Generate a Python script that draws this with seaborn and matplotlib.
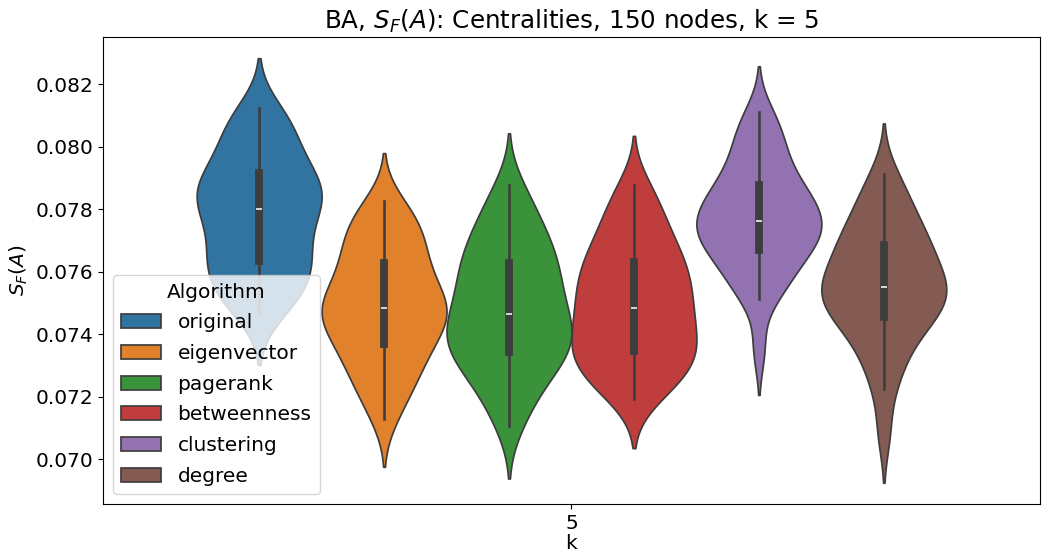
import matplotlib
matplotlib.use("Agg")
import matplotlib.pyplot as plt
import pandas as pd
import seaborn as sns

# Number of neighbours used in this experiment (single category on the x axis)
k_value = 5

algorithms = ["original", "eigenvector", "pagerank", "betweenness", "clustering", "degree"]

# S_F(A) values for each run, per centrality-based algorithm
original = [0.07460, 0.07495, 0.07520, 0.07545, 0.07565, 0.07590, 0.07610,
            0.07630, 0.07645, 0.07670, 0.07695, 0.07720, 0.07745, 0.07770,
            0.07790, 0.07810, 0.07825, 0.07840, 0.07855, 0.07870, 0.07885,
            0.07900, 0.07920, 0.07945, 0.07975, 0.08005, 0.08035, 0.08065,
            0.08095, 0.08125]
eigenvector = [0.07130, 0.07190, 0.07230, 0.07260, 0.07290, 0.07315, 0.07340,
               0.07365, 0.07385, 0.07405, 0.07425, 0.07440, 0.07455, 0.07470,
               0.07480, 0.07490, 0.07505, 0.07525, 0.07545, 0.07565, 0.07585,
               0.07610, 0.07635, 0.07660, 0.07685, 0.07710, 0.07735, 0.07760,
               0.07790, 0.07825]
pagerank = [0.07105, 0.07170, 0.07215, 0.07250, 0.07280, 0.07305, 0.07325,
            0.07340, 0.07355, 0.07370, 0.07390, 0.07410, 0.07430, 0.07435,
            0.07455, 0.07475, 0.07500, 0.07525, 0.07550, 0.07570, 0.07590,
            0.07610, 0.07635, 0.07660, 0.07685, 0.07710, 0.07740, 0.07775,
            0.07820, 0.07876]
betweenness = [0.07194, 0.07225, 0.07250, 0.07270, 0.07290, 0.07310, 0.07330,
               0.07342, 0.07355, 0.07375, 0.07395, 0.07415, 0.07435, 0.07455,
               0.07475, 0.07495, 0.07515, 0.07535, 0.07555, 0.07575, 0.07595,
               0.07620, 0.07635, 0.07660, 0.07685, 0.07715, 0.07750, 0.07785,
               0.07830, 0.07876]
clustering = [0.07352, 0.07514, 0.07535, 0.07570, 0.07600, 0.07625, 0.07645,
              0.07665, 0.07680, 0.07695, 0.07710, 0.07725, 0.07735, 0.07745,
              0.07755, 0.07770, 0.07785, 0.07800, 0.07815, 0.07830, 0.07845,
              0.07865, 0.07880, 0.07905, 0.07935, 0.07965, 0.08000, 0.08035,
              0.08070, 0.08111]
degree = [0.07085, 0.07225, 0.07285, 0.07335, 0.07375, 0.07405, 0.07430,
          0.07450, 0.07470, 0.07485, 0.07500, 0.07515, 0.07525, 0.07535,
          0.07545, 0.07560, 0.07575, 0.07595, 0.07615, 0.07635, 0.07655,
          0.07675, 0.07690, 0.07710, 0.07735, 0.07760, 0.07790, 0.07825,
          0.07865, 0.07914]

series = [original, eigenvector, pagerank, betweenness, clustering, degree]

df = pd.concat(
    [pd.DataFrame({"k": k_value, "S_F": vals, "Algorithm": name})
     for name, vals in zip(algorithms, series)],
    ignore_index=True,
)

FS = 14.5
plt.rcParams["font.size"] = FS

fig, ax = plt.subplots(figsize=(10.54, 5.54), dpi=100)
fig.subplots_adjust(left=0.0977, right=0.9867, top=0.9332, bottom=0.0903)

sns.violinplot(data=df, x="k", y="S_F", hue="Algorithm", hue_order=algorithms,
               bw_adjust=0.83, density_norm="width", ax=ax)

ax.set_title("BA, $S_F(A)$: Centralities, 150 nodes, k = 5", fontsize=17.7)
ax.set_xlabel("k", fontsize=FS, labelpad=1)
ax.set_ylabel("$S_F(A)$", fontsize=FS)
ax.tick_params(labelsize=FS)

sns.move_legend(ax, "lower left", title="Algorithm", fontsize=FS,
                title_fontsize=FS, labelspacing=0.58)

fig.savefig("out.png", dpi=100)
